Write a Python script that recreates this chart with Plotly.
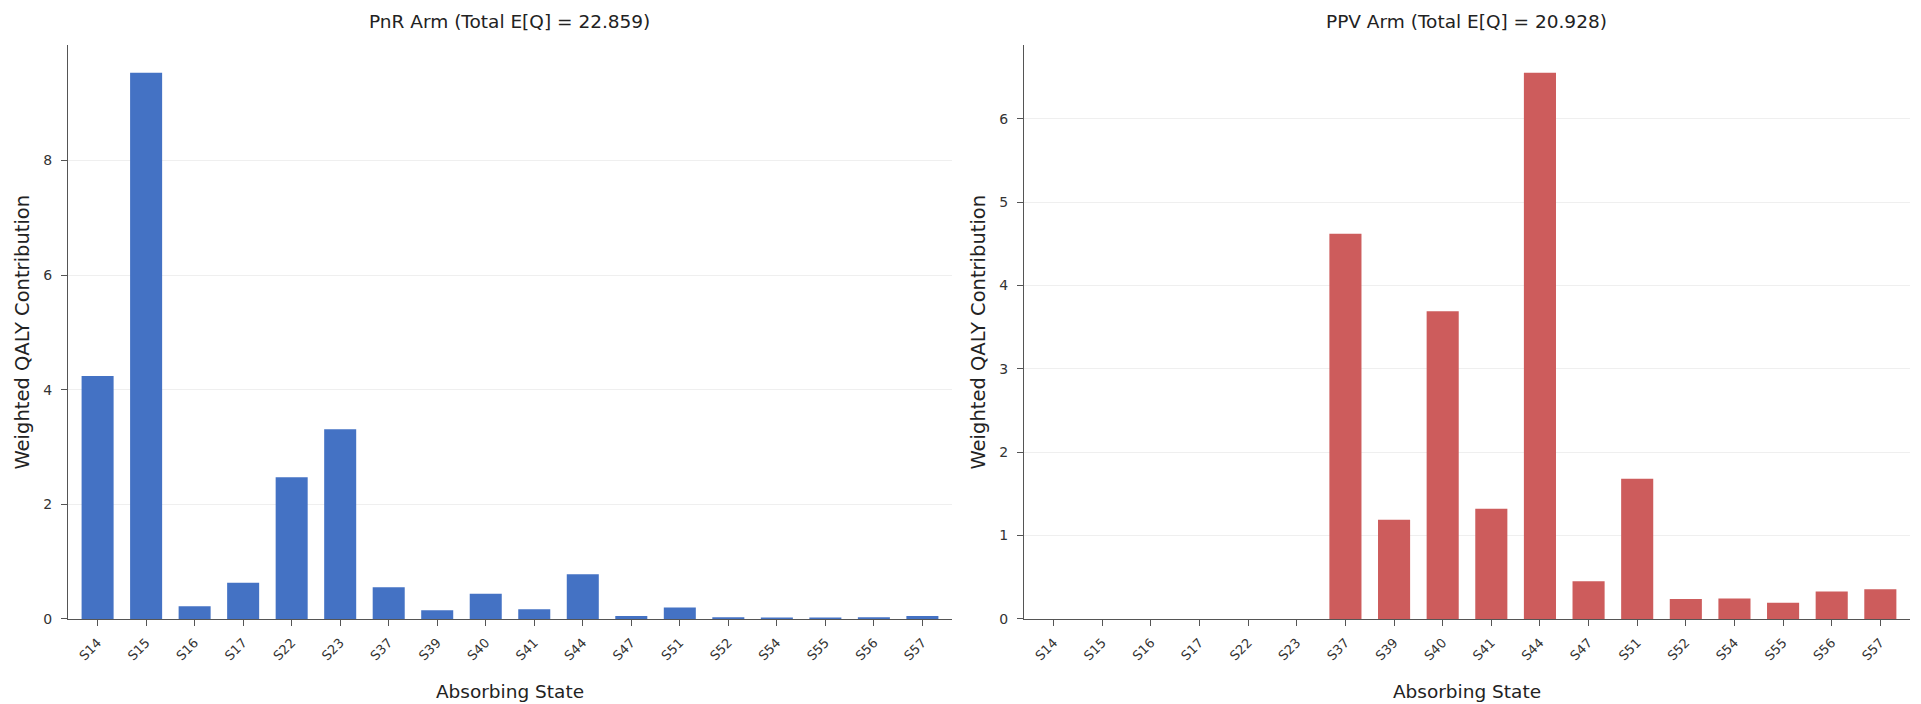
import plotly.graph_objects as go

states = ["S14", "S15", "S16", "S17", "S22", "S23", "S37", "S39", "S40",
          "S41", "S44", "S47", "S51", "S52", "S54", "S55", "S56", "S57"]
pnr_values = [4.24, 9.53, 0.22, 0.63, 2.47, 3.31, 0.55, 0.15, 0.44,
              0.17, 0.78, 0.05, 0.20, 0.03, 0.02, 0.02, 0.03, 0.05]
ppv_values = [0.0, 0.0, 0.0, 0.0, 0.0, 0.0, 4.62, 1.19, 3.69,
              1.32, 6.55, 0.45, 1.68, 0.24, 0.245, 0.195, 0.33, 0.355]
pnr_title = "PnR Arm (Total E[Q] = 22.859)"
ppv_title = "PPV Arm (Total E[Q] = 20.928)"
pnr_ticks = [0, 2, 4, 6, 8]
ppv_ticks = [0, 1, 2, 3, 4, 5, 6]

W, H = 1921, 704
BLUE = "#4472C4"
RED = "#CD5C5C"
FONT = "DejaVu Sans"

fig = go.Figure()
fig.add_trace(go.Bar(x=states, y=pnr_values, marker_color=BLUE,
                     marker_line_width=0, xaxis="x", yaxis="y", width=0.66))
fig.add_trace(go.Bar(x=states, y=ppv_values, marker_color=RED,
                     marker_line_width=0, xaxis="x2", yaxis="y2", width=0.66))

def px_x(p):
    return p / W

def px_y(p):
    return (H - p) / H

xd1 = [px_x(68), px_x(952)]
xd2 = [px_x(1024), px_x(1910)]
yd = [px_y(626), px_y(46)]

axis_common = dict(showline=True, linecolor="#555555", linewidth=1.3,
                   ticks="outside", ticklen=6, tickcolor="#555555",
                   zeroline=False)

xcommon = dict(axis_common, type="category", range=[-0.61, 17.61],
               tickangle=-45, showgrid=False, ticklabelstandoff=4,
               tickfont=dict(family=FONT, size=13, color="#333333"),
               title=dict(text="Absorbing State",
                          font=dict(family=FONT, size=18.5, color="#222222"),
                          standoff=22))

ycommon = dict(axis_common, showgrid=True, gridcolor="#efefef", gridwidth=1,
               ticklabelstandoff=6,
               tickfont=dict(family=FONT, size=14, color="#333333"),
               title=dict(text="Weighted QALY Contribution",
                          font=dict(family=FONT, size=19.5, color="#222222"),
                          standoff=8))

fig.update_layout(
    width=W, height=H,
    margin=dict(l=0, r=0, t=0, b=0),
    paper_bgcolor="white", plot_bgcolor="white",
    showlegend=False,
    bargap=0.34,
    xaxis=dict(xcommon, domain=xd1, anchor="y"),
    yaxis=dict(ycommon, domain=yd, anchor="x",
               range=[0, max(pnr_values) * 1.05], tickvals=pnr_ticks),
    xaxis2=dict(xcommon, domain=xd2, anchor="y2"),
    yaxis2=dict(ycommon, domain=yd, anchor="x2",
                range=[0, max(ppv_values) * 1.05], tickvals=ppv_ticks),
    annotations=[
        dict(text=pnr_title, x=(xd1[0] + xd1[1]) / 2, y=px_y(22),
             xref="paper", yref="paper", showarrow=False,
             xanchor="center", yanchor="middle",
             font=dict(family=FONT, size=18.5, color="#222222")),
        dict(text=ppv_title, x=(xd2[0] + xd2[1]) / 2, y=px_y(22),
             xref="paper", yref="paper", showarrow=False,
             xanchor="center", yanchor="middle",
             font=dict(family=FONT, size=18.5, color="#222222")),
    ],
)

fig.write_html("out.html", config={"displayModeBar": False},
               post_script="document.body.style.margin='0';document.body.style.overflow='hidden';")
